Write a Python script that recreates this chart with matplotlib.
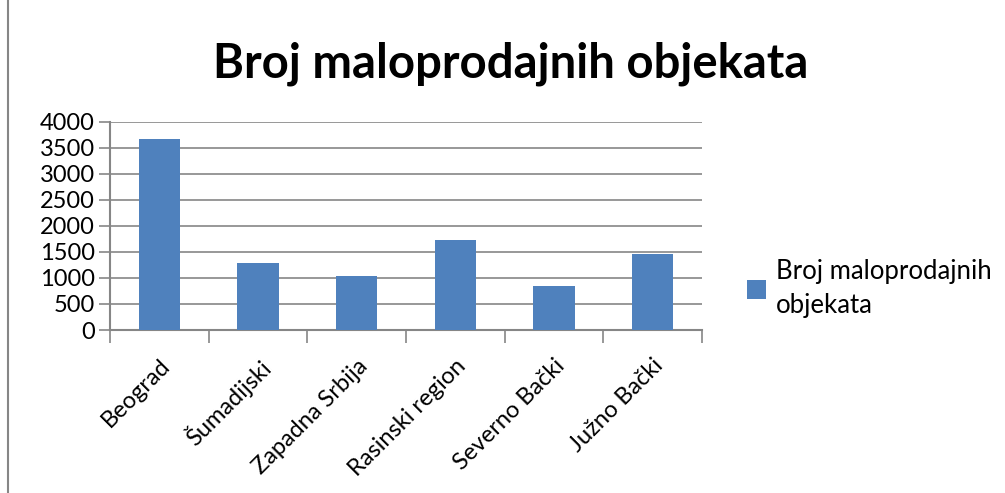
import matplotlib.pyplot as plt
from matplotlib.patches import Rectangle

plt.rcParams['font.family'] = ['Lato', 'DejaVu Sans']

regions = ['Beograd', 'Šumadijski', 'Zapadna Srbija', 'Rasinski region', 'Severno Bački', 'Južno Bački']
counts = [3670, 1290, 1040, 1730, 850, 1460]
yticks = [0, 500, 1000, 1500, 2000, 2500, 3000, 3500, 4000]

grey = '#868686'
blue = '#4f81bd'

fig = plt.figure(figsize=(10.05, 4.93), dpi=100)
fig.patches.append(Rectangle((0.008, -0.01), 1.0, 1.02, transform=fig.transFigure,
                             fill=False, edgecolor=grey, linewidth=1.5))

ax = fig.add_axes([0.1095, 0.3306, 0.589, 0.4225])
x = range(len(regions))
bars = ax.bar(x, counts, width=0.42, color=blue, zorder=3)

ax.set_ylim(0, 4000)
ax.set_xlim(-0.5, len(regions) - 0.5)
ax.set_yticks(yticks)
ax.set_yticklabels([str(v) for v in yticks], fontsize=17)
ax.yaxis.grid(True, color=grey, linewidth=1.2)
ax.tick_params(axis='y', length=8, color=grey, width=1.2, pad=3)

# category boundaries as tick marks, labels at centres
ax.set_xticks([i - 0.5 for i in range(len(regions) + 1)])
ax.set_xticklabels([])
ax.set_xticks(list(x), minor=True)
ax.set_xticklabels(regions, minor=True, rotation=45, ha='right', rotation_mode='anchor', fontsize=17)
ax.tick_params(axis='x', which='major', length=9, color=grey, width=1.2)
ax.tick_params(axis='x', which='minor', length=0, pad=18)

for side in ['top', 'right']:
    ax.spines[side].set_visible(False)
for side in ['left', 'bottom']:
    ax.spines[side].set_color(grey)
    ax.spines[side].set_linewidth(1.5)

fig.text(0.508, 0.87, 'Broj maloprodajnih objekata', ha='center', va='center',
         fontsize=34, fontweight='bold')

fig.legend(handles=[bars], labels=['Broj maloprodajnih\nobjekata'], loc='center left',
           bbox_to_anchor=(0.72, 0.415), frameon=False, fontsize=18.5,
           handlelength=0.75, handleheight=0.75, handletextpad=0.4)
for t in fig.legends[0].get_texts():
    t.set_linespacing(1.45)

fig.savefig('out.png', dpi=100)
